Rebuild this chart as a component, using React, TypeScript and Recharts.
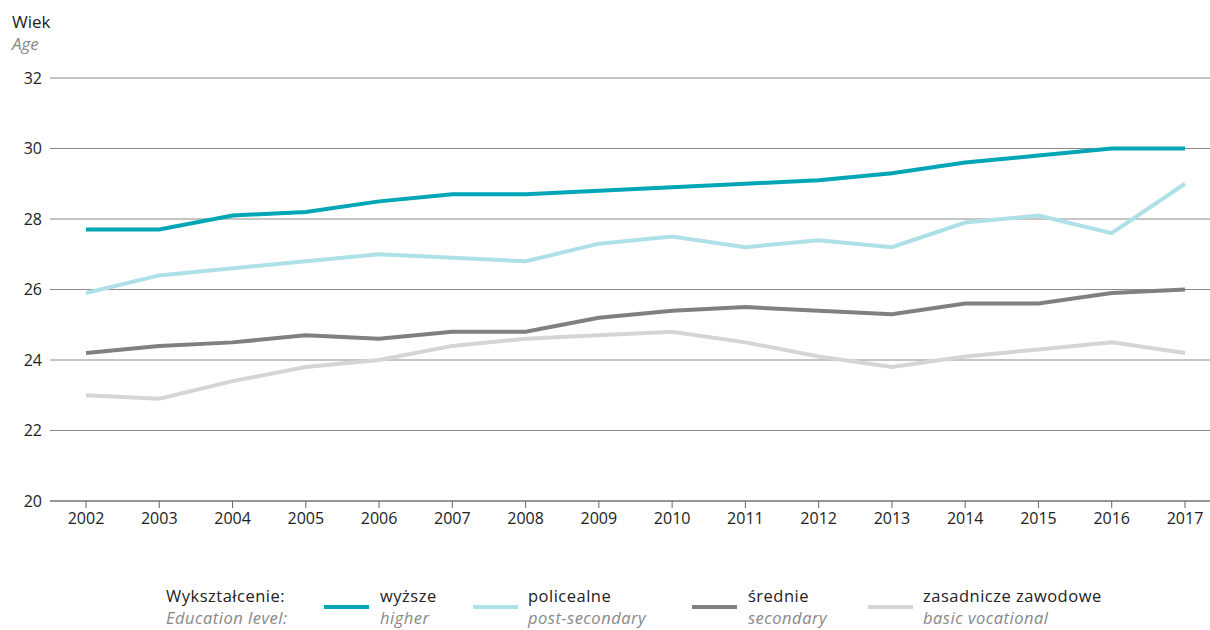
import { LineChart, Line, XAxis, YAxis, CartesianGrid } from 'recharts';

const years = ['2002', '2003', '2004', '2005', '2006', '2007', '2008', '2009', '2010', '2011', '2012', '2013', '2014', '2015', '2016', '2017'];
const higher = [27.7, 27.7, 28.1, 28.2, 28.5, 28.7, 28.7, 28.8, 28.9, 29.0, 29.1, 29.3, 29.6, 29.8, 30.0, 30.0];
const postSecondary = [25.9, 26.4, 26.6, 26.8, 27.0, 26.9, 26.8, 27.3, 27.5, 27.2, 27.4, 27.2, 27.9, 28.1, 27.6, 29.0];
const secondary = [24.2, 24.4, 24.5, 24.7, 24.6, 24.8, 24.8, 25.2, 25.4, 25.5, 25.4, 25.3, 25.6, 25.6, 25.9, 26.0];
const vocational = [23.0, 22.9, 23.4, 23.8, 24.0, 24.4, 24.6, 24.7, 24.8, 24.5, 24.1, 23.8, 24.1, 24.3, 24.5, 24.2];
const yTicks = [20, 22, 24, 26, 28, 30, 32];

const series = [
  { key: 'higher', pl: 'wyższe', en: 'higher', color: '#00a6b6', swatchX: 324, labelX: 380 },
  { key: 'postSecondary', pl: 'policealne', en: 'post-secondary', color: '#aee0e8', swatchX: 473, labelX: 528 },
  { key: 'secondary', pl: 'średnie', en: 'secondary', color: '#808084', swatchX: 692, labelX: 748 },
  { key: 'vocational', pl: 'zasadnicze zawodowe', en: 'basic vocational', color: '#d5d5d7', swatchX: 868, labelX: 923 },
];

const FONT = '"Open Sans", sans-serif';

const data = years.map((year, i) => ({
  year,
  higher: higher[i],
  postSecondary: postSecondary[i],
  secondary: secondary[i],
  vocational: vocational[i],
}));

const legendText = { fontSize: 16.5, lineHeight: '22px', letterSpacing: 0.5, color: '#222', whiteSpace: 'nowrap' as const };

export default function App() {
  return (
    <div style={{ position: 'relative', width: 1210, height: 630, fontFamily: FONT, background: '#fff', overflow: 'hidden' }}>
      <style>{`body { margin: 0; }`}</style>
      <div style={{ position: 'absolute', left: 12, top: 11, fontSize: 17, color: '#222', lineHeight: '22px' }}>
        Wiek
        <div style={{ fontStyle: 'italic', color: '#888' }}>Age</div>
      </div>

      <LineChart width={1210} height={630} data={data} margin={{ top: 78, right: 0, bottom: 99, left: 0 }}>
        <CartesianGrid vertical={false} stroke="#8a8a8a" strokeWidth={1} />
        <XAxis
          dataKey="year"
          padding={{ left: 36, right: 25 }}
          height={30}
          stroke="#666"
          tickSize={7}
          tickMargin={5}
          tick={{ fill: '#222', fontSize: 16, fontFamily: FONT }}
        />
        <YAxis
          domain={[20, 32]}
          ticks={yTicks}
          width={50}
          axisLine={false}
          tickLine={false}
          tickSize={0}
          tickMargin={8}
          tick={{ fill: '#222', fontSize: 16, fontFamily: FONT }}
        />
        {[...series].reverse().map((s) => (
          <Line
            key={s.key}
            dataKey={s.key}
            stroke={s.color}
            strokeWidth={4}
            dot={false}
            type="linear"
            isAnimationActive={false}
          />
        ))}
      </LineChart>

      {/* Legend */}
      <div style={{ position: 'absolute', left: 166, top: 585, ...legendText }}>
        Wykształcenie:
        <div style={{ fontStyle: 'italic', color: '#888' }}>Education level:</div>
      </div>
      {series.map((s) => (
        <div key={s.key}>
          <div style={{ position: 'absolute', left: s.swatchX, top: 605, width: 45, height: 4, background: s.color }} />
          <div style={{ position: 'absolute', left: s.labelX, top: 585, ...legendText }}>
            {s.pl}
            <div style={{ fontStyle: 'italic', color: '#888' }}>{s.en}</div>
          </div>
        </div>
      ))}
    </div>
  );
}
